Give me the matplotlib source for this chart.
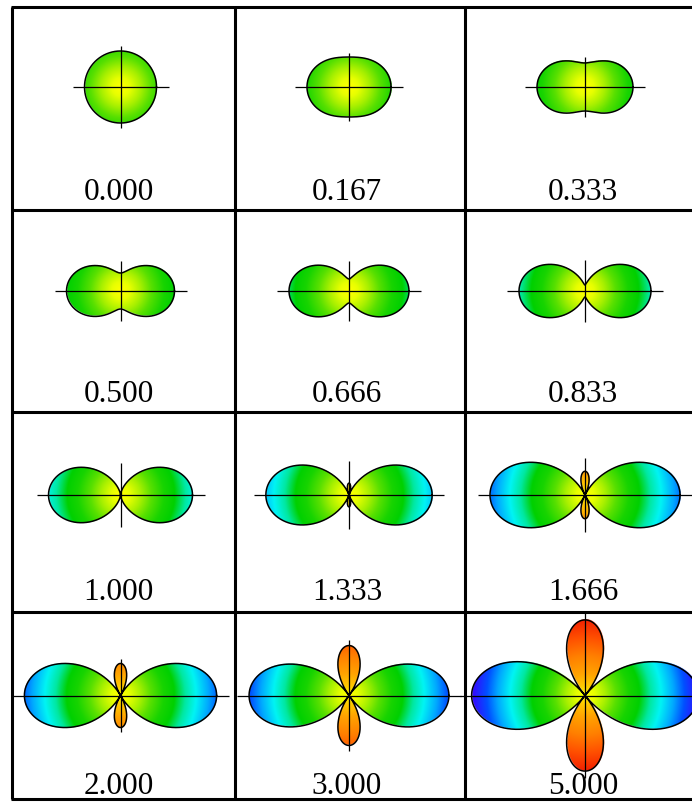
import numpy as np
import matplotlib.pyplot as plt
from matplotlib.colors import LinearSegmentedColormap, Normalize

# mixing parameter of each pattern, row by row
mix = [0.000, 0.167, 0.333, 0.500, 0.666, 0.833, 1.000, 1.333, 1.666, 2.000, 3.000, 5.000]
labels = ["0.000", "0.167", "0.333", "0.500", "0.666", "0.833",
          "1.000", "1.333", "1.666", "2.000", "3.000", "5.000"]
# overall size of each pattern (1 = radius of the pure circle)
amp = [1.0, 1.0, 1.0, 1.0, 1.0, 1.0, 1.0, 0.99, 0.99, 0.89, 0.694, 0.525]

# colour against signed radius: negative lobes warm, positive lobes cold
color_stops = [-2.2, -1.6, -1.1, -0.6, -0.25, 0.0, 0.25, 0.55, 0.85, 1.2, 1.5, 1.8, 2.1,
               2.45, 2.75, 3.1, 3.3]
color_list = ["#f01800", "#ff5000", "#ff8000", "#ffa400", "#ffcc00", "#ffff00", "#e8ff00",
              "#a8f000", "#58e000", "#18d400", "#00d000", "#00e8a0", "#00f4f4", "#00a8ff",
              "#0050ff", "#3010ff", "#4400f0"]

W, H = 692, 802
R0 = 36.0  # pixels per unit radius

vmin, vmax = color_stops[0], color_stops[-1]
cmap = LinearSegmentedColormap.from_list(
    "lobes", [((s - vmin) / (vmax - vmin), c) for s, c in zip(color_stops, color_list)])
norm = Normalize(vmin, vmax)

fig = plt.figure(figsize=(W / 100, H / 100), dpi=100)
ax = fig.add_axes([0, 0, 1, 1])

col_x = [120.5, 349.0, 585.0]
row_y = [87.0, 291.0, 495.0, 695.5]
label_y = [200.0, 402.5, 600.5, 794.0]

theta = np.linspace(0, 2 * np.pi, 2881)

for i, (p, a, lab) in enumerate(zip(mix, amp, labels)):
    r, c = divmod(i, 3)
    cx, cy = col_x[c], row_y[r]

    f = a * (1 + p * np.cos(2 * theta))
    xs = np.abs(f) * np.cos(theta)
    ys = np.abs(f) * np.sin(theta)
    hx = np.abs(xs).max()
    hy = np.abs(ys).max()

    # filled pattern, coloured by signed distance from the centre
    nx = int(2 * hx * R0 * 3) + 1
    ny = int(2 * hy * R0 * 3) + 1
    gx = np.linspace(-hx, hx, nx)
    gy = np.linspace(hy, -hy, ny)
    X, Y = np.meshgrid(gx, gy)
    rr = np.hypot(X, Y)
    th = np.arctan2(Y, X)
    ff = a * (1 + p * np.cos(2 * th))
    inside = rr <= np.abs(ff)
    v = np.sign(ff) * rr
    rgba = cmap(norm(v))
    rgba[..., 3] = inside.astype(float)
    ax.imshow(rgba, extent=(cx - hx * R0, cx + hx * R0, cy + hy * R0, cy - hy * R0),
              origin="upper", interpolation="bilinear", zorder=1)

    # outline
    ax.plot(cx + R0 * xs, cy - R0 * ys, color="black", lw=1.1, zorder=3)

    # axis cross
    hl = hx * R0 + 12
    vl = hy * R0 * 1.05 + 3
    ax.hlines(cy, cx - hl, cx + hl, color="black", lw=0.9, zorder=2)
    ax.vlines(cx, cy - vl, cy + vl, color="black", lw=0.9, zorder=2)

    ax.text(col_x[c] - 2, label_y[r], lab, ha="center", va="baseline",
            fontsize=22.5, family="Liberation Serif", color="black", zorder=4)

# frame of the table
grid_x = [11.5, 235.0, 464.5]
grid_y = [7.0, 210.0, 411.5, 611.5, 799.0]
for gxv in grid_x:
    ax.vlines(gxv, grid_y[0], grid_y[-1], color="black", lw=2.2, zorder=5)
for gyv in grid_y:
    ax.hlines(gyv, grid_x[0] - 1, W, color="black", lw=2.2, zorder=5)

ax.set_xlim(0, W)
ax.set_ylim(H, 0)
ax.set_aspect("auto")
ax.axis("off")

fig.savefig("out.png", dpi=100)
